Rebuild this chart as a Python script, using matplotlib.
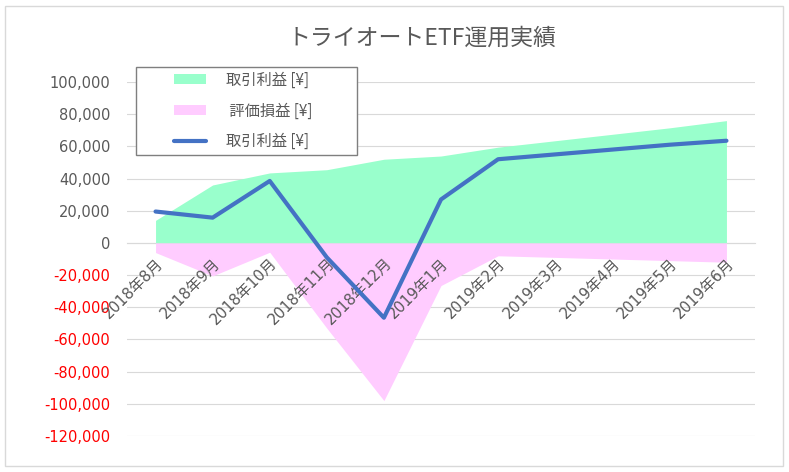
import matplotlib
matplotlib.use("Agg")
import matplotlib.pyplot as plt
from matplotlib.patches import Rectangle, Patch
from matplotlib.lines import Line2D
from matplotlib.ticker import FuncFormatter
import numpy as np

plt.rcParams['font.family'] = ['DejaVu Sans', 'Noto Sans CJK JP']

months = ["2018年8月", "2018年9月", "2018年10月", "2018年11月", "2018年12月",
          "2019年1月", "2019年2月", "2019年3月", "2019年4月", "2019年5月", "2019年6月"]
trade_area = [14000, 36000, 43500, 45500, 52000, 54000, 59500, 63500, 67500, 71500, 76000]
eval_area = [-6000, -20500, -5800, -53000, -98000, -26500, -8000, -9000, -10000, -11000, -12000]
trade_line = [19500, 15700, 38500, -9000, -46500, 27000, 52000, 55000, 58000, 61000, 63500]
yticks = list(range(-120000, 100001, 20000))

title = "トライオートETF運用実績"
lab_trade = "取引利益 [¥]"
lab_eval = " 評価損益 [¥]"

W, H = 789, 472
fig = plt.figure(figsize=(W / 100, H / 100), dpi=100)
fig.patch.set_facecolor("white")
fig.patches.append(Rectangle((5 / W, 6 / H), 778 / W, 460 / H, transform=fig.transFigure,
                             fill=False, edgecolor="#D9D9D9", linewidth=1.0))

ax = fig.add_axes([127 / W, 1 - 436 / H, 628 / W, 354 / H])
x = np.arange(len(months))
green = "#99FFCC"
pink = "#FFCCFF"
blue = "#4472C4"

ax.fill_between(x, 0, trade_area, color=green, linewidth=0, zorder=2)
ax.fill_between(x, 0, eval_area, color=pink, linewidth=0, zorder=2)
ax.plot(x, trade_line, color=blue, linewidth=3, solid_capstyle="round", zorder=4)

ax.set_xlim(-0.5, len(months) - 0.5)
ax.set_ylim(-120000, 100000)
ax.set_yticks(yticks)
ax.yaxis.set_major_formatter(FuncFormatter(lambda v, p: f"{int(v):,}"))
ax.grid(axis="y", color="#D9D9D9", linewidth=0.8)
ax.set_axisbelow(True)
ax.xaxis.set_zorder(3)
for s in ["top", "right", "left"]:
    ax.spines[s].set_visible(False)
ax.spines["bottom"].set_position(("data", 0))
ax.spines["bottom"].set_color("#D9D9D9")
ax.spines["bottom"].set_linewidth(0.8)
ax.spines["bottom"].set_zorder(1)

ax.set_xticks(x)
ax.set_xticklabels(months, rotation=45, ha="right", rotation_mode="anchor",
                   fontsize=10.8, color="#595959")
ax.tick_params(axis="x", length=0, pad=9)
ax.tick_params(axis="y", length=0, pad=12, labelsize=10.5)
for t, v in zip(ax.get_yticklabels(), yticks):
    t.set_color("#FF0000" if v < 0 else "#595959")

fig.text(422 / W, 1 - 38 / H, title, ha="center", va="center", fontsize=16.5,
         color="#595959", family=["Noto Sans CJK JP", "DejaVu Sans"])

# legend frame
fig.patches.append(Rectangle((136 / W, 1 - 155 / H), 221 / W, 88 / H, transform=fig.transFigure,
                             facecolor="white", edgecolor="#7F7F7F", linewidth=1.0, zorder=9))
handles = [Patch(facecolor=green, edgecolor="none"),
           Patch(facecolor=pink, edgecolor="none"),
           Line2D([0], [0], color=blue, linewidth=3, solid_capstyle="round")]
leg = fig.legend(handles, [lab_trade, lab_eval, lab_trade],
                 loc="center left", bbox_to_anchor=(174 / W, 1 - 111 / H),
                 frameon=False, handlelength=2.1, handleheight=0.65,
                 handletextpad=1.3, borderpad=0, labelspacing=0.9,
                 borderaxespad=0, prop={"family": ["Noto Sans CJK JP", "DejaVu Sans"], "size": 11},
                 labelcolor="#595959")
leg.set_zorder(10)

fig.savefig("out.png", dpi=100, facecolor="white")
